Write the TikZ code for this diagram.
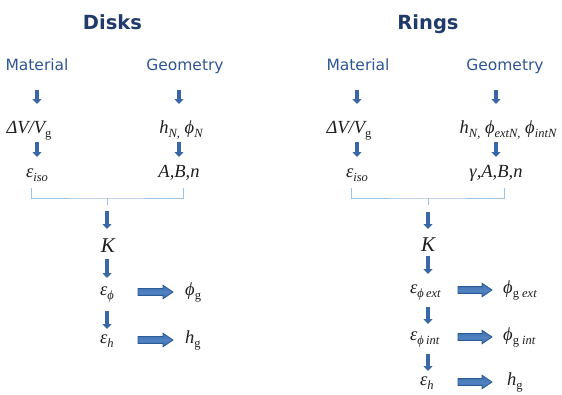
\documentclass[tikz,border=0pt]{standalone}
\usepackage{fontspec}
\setmainfont{Liberation Serif}
\newfontfamily\labelfont{DejaVu Sans}
\usetikzlibrary{arrows.meta,calc}

\definecolor{titleblue}{HTML}{1F3A6B}
\definecolor{headblue}{HTML}{2F5597}
\definecolor{arrowblue}{HTML}{3A68A6}
\definecolor{bracketblue}{HTML}{9DC3E6}
\definecolor{blockfill}{HTML}{3A6DAF}
\definecolor{blocklight}{HTML}{5182C0}
\definecolor{blockedge}{HTML}{2C5A94}
\definecolor{ink}{HTML}{1E1E1E}

% lowered, smaller text for indices
\newcommand{\lsub}[1]{\raisebox{-0.5ex}{\fontsize{12.5}{12.5}\selectfont #1}}

\tikzset{
  title/.style={font=\labelfont\bfseries\fontsize{19.5}{20}\selectfont, text=titleblue, inner sep=0, anchor=base},
  head/.style={font=\labelfont\fontsize{15.5}{16}\selectfont, text=headblue, inner sep=0, anchor=base},
  var/.style={font=\fontsize{18.5}{19}\selectfont\itshape, text=ink, inner sep=0, anchor=base},
  bigvar/.style={var, font=\fontsize{21}{22}\selectfont\itshape},
  sarrow/.style={draw=arrowblue, line width=3.4pt, -{Triangle[length=5pt,width=9pt]}},
  bracket/.style={draw=bracketblue, line width=1pt},
  % block arrow drawn as an outlined polygon between two points
  blockarrow/.style={draw=blockedge, line width=0.8pt, line join=miter,
    top color=blockfill, bottom color=blockfill, middle color=blocklight,
    to path={let \p1=(\tikztostart), \p2=(\tikztotarget) in
      ({\x1},{\y1+3.4pt}) -- ({\x2-10pt},{\y1+3.4pt}) -- ({\x2-10pt},{\y1+6.8pt})
      -- ({\x2},{\y1}) -- ({\x2-10pt},{\y1-6.8pt}) -- ({\x2-10pt},{\y1-3.4pt})
      -- ({\x1},{\y1-3.4pt}) -- cycle}},
}

\begin{document}
\begin{tikzpicture}[x=1pt,y=-1pt]
\useasboundingbox (0,0) rectangle (562,394);

% ---------------- Disks ----------------
\node[title] (title1) at (112.5,29) {Disks};
\node[head] (mat1) at (37,70) {Material};
\node[head] (geo1) at (185,70) {Geometry};
\node[var] (dv1) at (29,133) {ΔV/V\lsub{\upshape g}};
\node[var] (hn1) at (181,133) {h\lsub{N,} ϕ\lsub{N}};
\node[var] (epsiso1) at (37,177) {ε\lsub{iso}};
\node[var] (abn1) at (179,177) {A,B,n};

\draw[sarrow, shorten <=20pt, shorten >=29pt] (mat1.base -| epsiso1) -- (dv1.base -| epsiso1);
\draw[sarrow, shorten <=20pt, shorten >=29pt] (geo1.base -| abn1) -- (hn1.base -| abn1);
\draw[sarrow, shorten <=9pt, shorten >=20pt] (dv1.base -| epsiso1) -- (epsiso1.base);
\draw[sarrow, shorten <=9pt, shorten >=20pt] (hn1.base -| abn1) -- (abn1.base);

\coordinate (bl1) at (31,188);
\coordinate (br1) at (183,188);
\coordinate (bj1) at (107,198);
\coordinate (bs1) at (107,205);
\draw[bracket] (bl1) |- (bj1) -| (br1);
\draw[bracket] (bj1) -- (bs1);

\node[bigvar] (k1) at (108,252) {K};
\node[var, anchor=base west] (ephi1) at (100,295) {ε\lsub{ϕ}};
\node[var, anchor=base west] (phig1) at (185,295) {ϕ\lsub{\upshape g}};
\node[var, anchor=base west] (eh1) at (100,343) {ε\lsub{h}};
\node[var, anchor=base west] (hg1) at (185,343) {h\lsub{\upshape g}};

\draw[sarrow, shorten <=6pt, shorten >=23pt] (bs1) -- (bs1 |- k1.base);
\draw[sarrow, shorten <=7pt, shorten >=17pt] (bs1 |- k1.base) -- (bs1 |- ephi1.base);
\draw[sarrow, shorten <=16pt, shorten >=14pt] (bs1 |- ephi1.base) -- (bs1 |- eh1.base);

\draw[blockarrow] ([xshift=38pt,yshift=3pt]ephi1.base west) to ([xshift=-12pt,yshift=3pt]phig1.base west);
\draw[blockarrow] ([xshift=38pt,yshift=3pt]eh1.base west) to ([xshift=-12pt,yshift=3pt]hg1.base west);

% ---------------- Rings ----------------
\node[title] (title2) at (428,29) {Rings};
\node[head] (mat2) at (358,70) {Material};
\node[head] (geo2) at (505,70) {Geometry};
\node[var] (dv2) at (349,133) {ΔV/V\lsub{\upshape g}};
\node[var] (hn2) at (508,133) {h\lsub{N,} ϕ\lsub{extN,} ϕ\lsub{intN}};
\node[var] (epsiso2) at (357,177) {ε\lsub{iso}};
\node[var] (gabn2) at (496,177) {γ,A,B,n};

\draw[sarrow, shorten <=20pt, shorten >=29pt] (mat2.base -| epsiso2) -- (dv2.base -| epsiso2);
\draw[sarrow, shorten <=20pt, shorten >=29pt] (geo2.base -| gabn2) -- (hn2.base -| gabn2);
\draw[sarrow, shorten <=9pt, shorten >=20pt] (dv2.base -| epsiso2) -- (epsiso2.base);
\draw[sarrow, shorten <=9pt, shorten >=20pt] (hn2.base -| gabn2) -- (gabn2.base);

\coordinate (bl2) at (351,188);
\coordinate (br2) at (504,188);
\coordinate (bj2) at (428,198);
\coordinate (bs2) at (428,205);
\draw[bracket] (bl2) |- (bj2) -| (br2);
\draw[bracket] (bj2) -- (bs2);

\node[bigvar] (k2) at (428,251) {K};
\node[var, anchor=base west] (ephiext2) at (410,293) {ε\lsub{ϕ\,ext}};
\node[var, anchor=base west] (phigext2) at (503,293) {ϕ\lsub{\upshape g \itshape ext}};
\node[var, anchor=base west] (ephiint2) at (410,340) {ε\lsub{ϕ\,int}};
\node[var, anchor=base west] (phigint2) at (503,340) {ϕ\lsub{\upshape g \itshape int}};
\node[var, anchor=base west] (eh2) at (420,385) {ε\lsub{h}};
\node[var, anchor=base west] (hg2) at (507,385) {h\lsub{\upshape g}};

\draw[sarrow, shorten <=7pt, shorten >=22pt] (bs2) -- (bs2 |- k2.base);
\draw[sarrow, shorten <=5pt, shorten >=19pt] (bs2 |- k2.base) -- (bs2 |- ephiext2.base);
\draw[sarrow, shorten <=14pt, shorten >=16pt] (bs2 |- ephiext2.base) -- (bs2 |- ephiint2.base);
\draw[sarrow, shorten <=14pt, shorten >=14pt] (bs2 |- ephiint2.base) -- (bs2 |- eh2.base);

\draw[blockarrow] ([xshift=48pt,yshift=3pt]ephiext2.base west) to ([xshift=-11pt,yshift=3pt]phigext2.base west);
\draw[blockarrow] ([xshift=48pt,yshift=3pt]ephiint2.base west) to ([xshift=-11pt,yshift=3pt]phigint2.base west);
\draw[blockarrow] ([xshift=38pt,yshift=3pt]eh2.base west) to ([xshift=-15pt,yshift=3pt]hg2.base west);
\end{tikzpicture}
\end{document}
